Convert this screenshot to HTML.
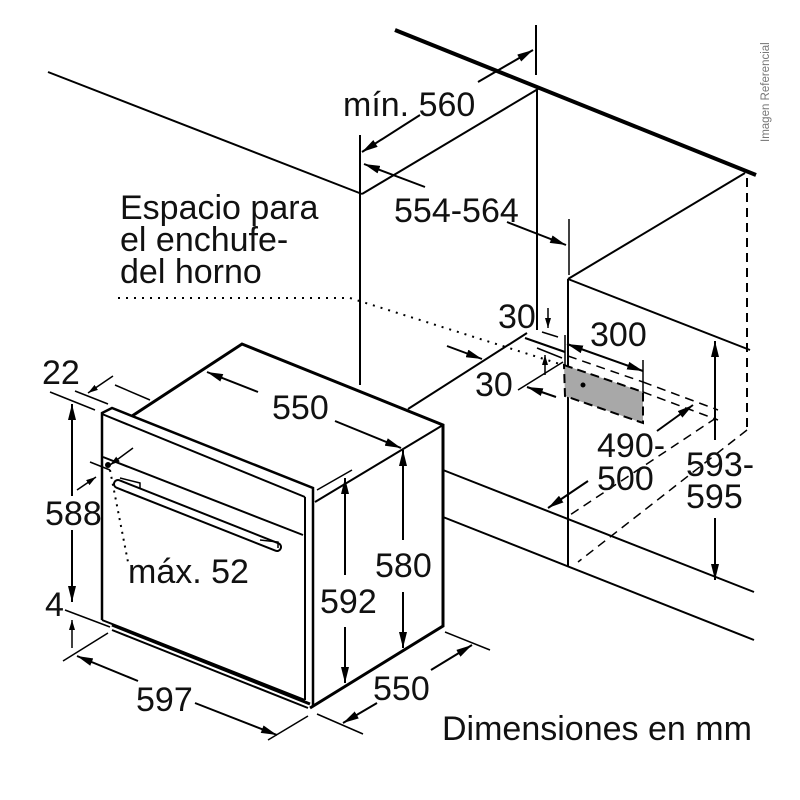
<!DOCTYPE html>
<html><head><meta charset="utf-8"><style>
html,body{margin:0;padding:0;background:#fff;}
svg{display:block;}
text{font-family:"Liberation Sans",Arial,sans-serif;fill:#111;}
</style></head><body>
<svg width="800" height="800" viewBox="0 0 800 800" xmlns="http://www.w3.org/2000/svg">
<defs>
<marker id="a" viewBox="0 0 16 8" refX="16" refY="4" markerWidth="16" markerHeight="8" markerUnits="userSpaceOnUse" orient="auto-start-reverse">
<path d="M0,0 L16,4 L0,8 Z" fill="#000"/></marker>
<marker id="s" viewBox="0 0 10 6" refX="10" refY="3" markerWidth="10" markerHeight="6" markerUnits="userSpaceOnUse" orient="auto-start-reverse">
<path d="M0,0 L10,3 L0,6 Z" fill="#000"/></marker>
</defs>
<g stroke="#000" fill="none" stroke-width="2">
<line x1="395" y1="30" x2="756" y2="175" stroke-width="4"/>
<line x1="48" y1="72" x2="362" y2="194"/>
<line x1="360" y1="135" x2="360" y2="385"/>
<line x1="362" y1="194" x2="538" y2="89"/>
<line x1="537" y1="89" x2="537" y2="330"/>
<line x1="536" y1="25" x2="536" y2="75"/>
<line x1="527" y1="333" x2="408" y2="409"/>
<line x1="525" y1="338" x2="565" y2="352"/>
<line x1="542" y1="332" x2="558" y2="337" stroke-width="1.5"/>
<line x1="537" y1="348" x2="562" y2="358" stroke-width="1.5"/>
<line x1="518" y1="390" x2="563" y2="362" stroke-width="1.5"/>
<line x1="565" y1="335" x2="565" y2="365" stroke-width="1.5"/>
<line x1="568" y1="279" x2="568" y2="566"/>
<line x1="569" y1="219" x2="569" y2="275" stroke-width="1.5"/>
<line x1="568" y1="279" x2="745" y2="173"/>
<line x1="568" y1="279" x2="750" y2="350"/>
<line x1="443" y1="470" x2="754" y2="592"/>
<line x1="443" y1="517" x2="754" y2="640"/>
<line x1="747" y1="178" x2="747" y2="430" stroke-dasharray="9,6"/>
<polygon points="564,365 643,392 643,423 565,396" fill="#a8a8a8" stroke-dasharray="9,5"/>
<circle cx="583" cy="385" r="1.5" fill="#000"/>
<line x1="568" y1="356" x2="643" y2="382" stroke-dasharray="9,6" stroke-width="1.5"/>
<line x1="643" y1="392" x2="718" y2="420" stroke-dasharray="9,6" stroke-width="1.5"/>
<line x1="643" y1="382" x2="718" y2="410" stroke-dasharray="9,6" stroke-width="1.5"/>
<line x1="716" y1="418" x2="570" y2="515" stroke-dasharray="9,6" stroke-width="1.5"/>
<line x1="747" y1="430" x2="578" y2="562" stroke-dasharray="9,6" stroke-width="1.5"/>
<line x1="643" y1="360" x2="643" y2="392" stroke-width="1.5"/>
<polyline points="118,298 350,298 563,365" stroke-dasharray="2,6" stroke-width="2"/>
<line x1="420" y1="115" x2="362" y2="152" marker-end="url(#a)"/>
<line x1="478" y1="82" x2="533" y2="50" marker-end="url(#a)"/>
<line x1="425" y1="187" x2="364" y2="164" marker-end="url(#a)"/>
<line x1="507" y1="222" x2="566" y2="245" marker-end="url(#a)"/>
<line x1="548" y1="308" x2="548" y2="328" marker-end="url(#s)" stroke-width="1.5"/>
<line x1="545" y1="375" x2="545" y2="355" marker-end="url(#s)" stroke-width="1.5"/>
<line x1="556" y1="397" x2="527" y2="387" marker-end="url(#a)"/>
<line x1="447" y1="346" x2="482" y2="359" marker-end="url(#a)"/>
<line x1="567" y1="344" x2="643" y2="371" marker-start="url(#a)" marker-end="url(#a)"/>
<line x1="657" y1="431" x2="693" y2="405" marker-end="url(#a)"/>
<line x1="588" y1="481" x2="548" y2="508" marker-end="url(#a)"/>
<line x1="715" y1="440" x2="715" y2="341" marker-end="url(#a)"/>
<line x1="715" y1="518" x2="715" y2="580" marker-end="url(#a)"/>
<polyline points="132,416 242,344 443,425 443,626 310,708" stroke-width="3"/>
<line x1="315" y1="502" x2="443" y2="425"/>
<polyline points="102,620 102,413 112,408 313,488 313,706" stroke-width="2.5"/>
<line x1="102" y1="414" x2="305" y2="497"/>
<line x1="305" y1="497" x2="305" y2="700"/>
<line x1="103" y1="457" x2="303" y2="535"/>
<line x1="102" y1="620" x2="305" y2="700"/>
<line x1="112" y1="625" x2="310" y2="704" stroke-width="3"/>
<line x1="112" y1="630" x2="308" y2="708"/>
<line x1="118" y1="484" x2="277" y2="547" stroke-width="10" stroke-linecap="round"/>
<line x1="118" y1="484" x2="277" y2="547" stroke="#fff" stroke-width="6" stroke-linecap="round"/>
<polyline points="120,478 140,483 140,489" stroke-width="1.5"/>
<polyline points="260,540 278,542 278,548" stroke-width="1.5"/>
<circle cx="108" cy="465" r="2" fill="#000"/>
<line x1="110" y1="470" x2="128" y2="562" stroke-dasharray="2,5" stroke-width="2"/>
<line x1="50" y1="392" x2="95" y2="410" stroke-width="1.5"/>
<line x1="75" y1="391" x2="108" y2="404" stroke-width="1.5"/>
<line x1="115" y1="385" x2="150" y2="400" stroke-width="1.5"/>
<line x1="113" y1="376" x2="88" y2="393" marker-end="url(#s)" stroke-width="1.5"/>
<line x1="72" y1="404" x2="72" y2="496" marker-start="url(#a)"/>
<line x1="72" y1="530" x2="72" y2="602" marker-end="url(#a)"/>
<line x1="65" y1="610" x2="110" y2="627" stroke-width="1.5"/>
<line x1="72" y1="648" x2="72" y2="620" marker-end="url(#s)" stroke-width="1.5"/>
<line x1="90" y1="462" x2="110" y2="470" stroke-width="1.5"/>
<line x1="133" y1="448" x2="110" y2="465" marker-end="url(#s)" stroke-width="1.5"/>
<line x1="77" y1="490" x2="96" y2="477" marker-end="url(#s)" stroke-width="1.5"/>
<line x1="63" y1="661" x2="108" y2="633" stroke-width="1.5"/>
<line x1="268" y1="740" x2="308" y2="716" stroke-width="1.5"/>
<line x1="138" y1="681" x2="77" y2="656" marker-end="url(#a)"/>
<line x1="195" y1="703" x2="277" y2="735" marker-end="url(#a)"/>
<line x1="317" y1="714" x2="363" y2="734" stroke-width="1.5"/>
<line x1="445" y1="632" x2="490" y2="650" stroke-width="1.5"/>
<line x1="377" y1="703" x2="343" y2="723" marker-end="url(#a)"/>
<line x1="431" y1="670" x2="472" y2="645" marker-end="url(#a)"/>
<line x1="258" y1="392" x2="207" y2="372" marker-end="url(#a)"/>
<line x1="335" y1="421" x2="401" y2="448" marker-end="url(#a)"/>
<line x1="403" y1="540" x2="403" y2="450" marker-end="url(#a)"/>
<line x1="403" y1="592" x2="403" y2="648" marker-end="url(#a)"/>
<line x1="317" y1="490" x2="352" y2="470" stroke-width="1.5"/>
<line x1="345" y1="575" x2="345" y2="478" marker-end="url(#a)"/>
<line x1="345" y1="627" x2="345" y2="683" marker-end="url(#a)"/>
</g>
<g font-size="34">
<text x="120" y="219">Espacio para</text>
<text x="120" y="251">el enchufe-</text>
<text x="120" y="283">del horno</text>
<text x="343" y="116">mín. 560</text>
<text x="394" y="222">554-564</text>
<text x="498" y="328">30</text>
<text x="590" y="346">300</text>
<text x="475" y="396">30</text>
<text x="597" y="457">490-</text>
<text x="597" y="490">500</text>
<text x="686" y="476">593-</text>
<text x="686" y="508">595</text>
<text x="42" y="384">22</text>
<text x="272" y="419">550</text>
<text x="45" y="525">588</text>
<text x="128" y="583">máx. 52</text>
<text x="375" y="577">580</text>
<text x="320" y="613">592</text>
<text x="45" y="616">4</text>
<text x="136" y="711">597</text>
<text x="373" y="700">550</text>
<text x="442" y="740">Dimensiones en mm</text>
</g>
<text x="0" y="0" font-size="11.5" style="fill:#777" transform="translate(769,142) rotate(-90)">Imagen Referencial</text>
</svg>
</body></html>
